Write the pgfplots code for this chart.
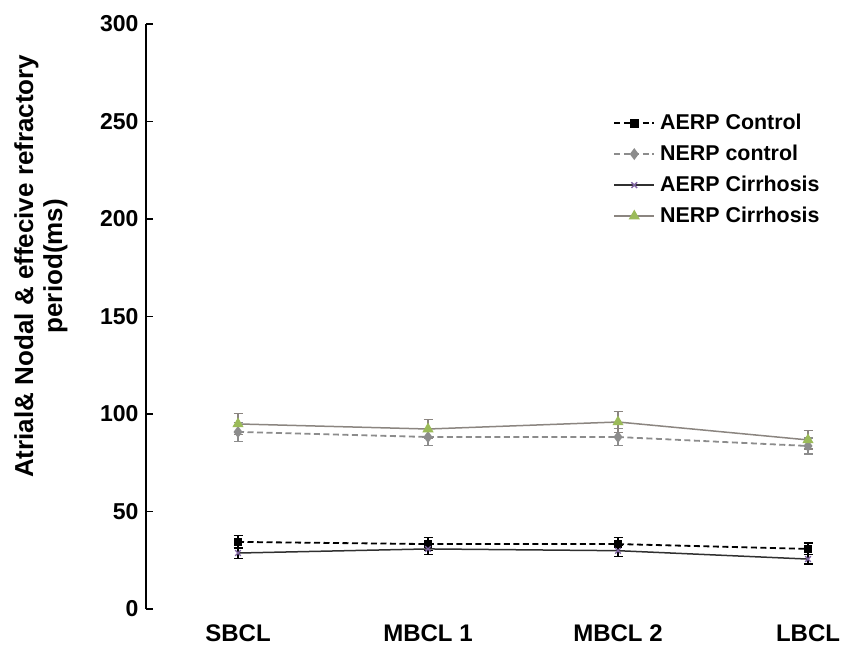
\documentclass[border=0pt]{standalone}
\usepackage{pgfplots}
\pgfplotsset{compat=1.18}
\usepackage{fontspec}
\setmainfont{Liberation Sans}
\definecolor{nerpcir}{HTML}{8B8580}
\definecolor{nerpcon}{HTML}{8C8C8C}
\definecolor{grn}{HTML}{9BBB59}
\definecolor{purp}{HTML}{8064A2}
\definecolor{aerpcir}{HTML}{303030}
\begin{document}
\begin{tikzpicture}
\useasboundingbox (0,0) rectangle (842pt,647pt);
\begin{axis}[
  at={(238pt,38pt)}, anchor=origin,
  x=190pt, y=1.95pt,
  xmin=-0.484, xmax=3.18, ymin=0, ymax=300,
  clip=false,
  axis y line*=left, axis x line*=bottom,
  x axis line style={draw=none},
  y axis line style={line width=1.6pt, black, -},
  xtick={0,1,2,3},
  xticklabels={SBCL, MBCL 1, MBCL 2, LBCL},
  xtick style={draw=none},
  ytick={0,50,...,300},
  tick align=inside,
  major tick length=7pt,
  ytick style={line width=1.4pt, black},
  /pgf/number format/assume math mode=true,
  yticklabel style={font=\fontsize{23}{27}\selectfont\bfseries, xshift=-4pt},
  xticklabel style={font=\fontsize{24}{28}\selectfont\bfseries, anchor=north, yshift=-12.5pt},
  ylabel={Atrial\& Nodal \& effecive refractory\\period(ms)},
  ylabel style={at={(rel axis cs:-0.151,0.586)}, anchor=center, rotate=0, align=center, font=\fontsize{26}{29}\selectfont\bfseries},
  legend style={at={(rel axis cs:0.671,0.848)}, anchor=north west, draw=none, fill=none,
    inner sep=0pt, row sep=11pt, column sep=5pt,
    nodes={inner sep=0pt, text height=16pt, text depth=4pt, font=\fontsize{21.4}{24}\selectfont\bfseries}},
  legend cell align=left,
  legend image code/.code={\draw[mark repeat=2,mark phase=2,#1] plot coordinates {(0pt,0pt)(20pt,0pt)(40pt,0pt)};},
  error bars/error bar style={line width=1.2pt},
  error bars/error mark options={rotate=90, mark size=4.5pt, line width=1.2pt},
]
\addplot+[black, dash pattern=on 6pt off 3.5pt, line width=1.8pt, mark=square*, mark size=3.5pt, mark options={solid, fill=black, draw=black},
  error bars/.cd, y dir=both, y explicit, error bar style={black, solid}, error mark options={black, solid, rotate=90, mark size=4.5pt, line width=1.2pt}]
  coordinates {(0,34.4) +- (0,3.3) (1,33.3) +- (0,3.2) (2,33.3) +- (0,3.2) (3,30.8) +- (0,3.0)};
\addlegendentry{AERP Control}
\addplot+[nerpcon, dash pattern=on 6pt off 3.5pt, line width=1.8pt, mark=diamond*, mark size=4.5pt, mark options={solid, fill=nerpcon, draw=nerpcon},
  error bars/.cd, y dir=both, y explicit, error bar style={nerpcon, solid}, error mark options={nerpcon, solid, rotate=90, mark size=4.5pt, line width=1.2pt}]
  coordinates {(0,90.8) +- (0,5.0) (1,88.2) +- (0,4.5) (2,88.2) +- (0,4.5) (3,83.6) +- (0,4.1)};
\addlegendentry{NERP control}
\addplot+[aerpcir, solid, line width=1.5pt, mark=x, mark size=4pt, mark options={solid, draw=purp, line width=1.3pt},
  error bars/.cd, y dir=both, y explicit, error bar style={black, solid}, error mark options={black, solid, rotate=90, mark size=4.5pt, line width=1.2pt}]
  coordinates {(0,28.7) +- (0,2.8) (1,30.8) +- (0,2.8) (2,29.9) +- (0,2.8) (3,25.6) +- (0,2.5)};
\addlegendentry{AERP Cirrhosis}
\addplot+[nerpcir, solid, line width=1.5pt, mark=triangle*, mark size=5pt, mark options={solid, fill=grn, draw=grn},
  error bars/.cd, y dir=both, y explicit, error bar style={nerpcir, solid}, error mark options={nerpcir, solid, rotate=90, mark size=4.5pt, line width=1.2pt}]
  coordinates {(0,94.9) +- (0,5.3) (1,92.3) +- (0,5.0) (2,95.9) +- (0,5.3) (3,86.7) +- (0,4.7)};
\addlegendentry{NERP Cirrhosis}
\end{axis}
\end{tikzpicture}
\end{document}
